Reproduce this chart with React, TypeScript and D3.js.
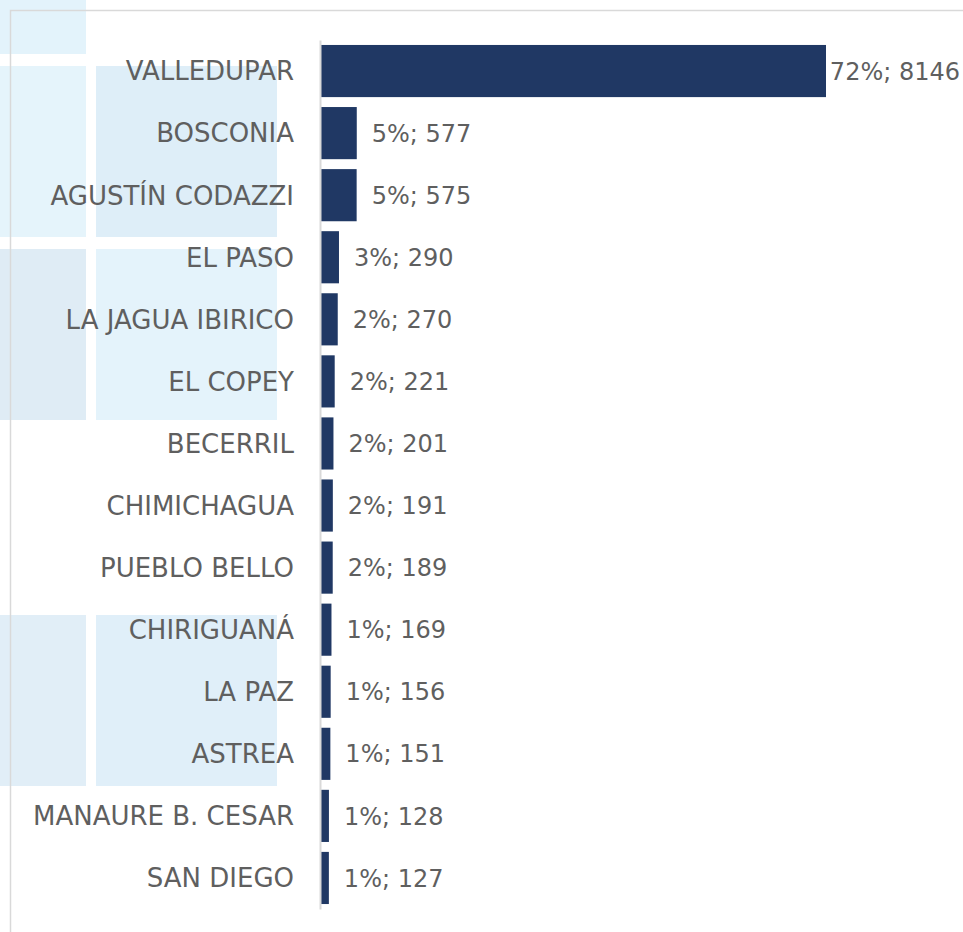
import React, { useEffect, useRef } from "react";
import * as d3 from "d3";

const categories = [
  "VALLEDUPAR",
  "BOSCONIA",
  "AGUSTÍN CODAZZI",
  "EL PASO",
  "LA JAGUA IBIRICO",
  "EL COPEY",
  "BECERRIL",
  "CHIMICHAGUA",
  "PUEBLO BELLO",
  "CHIRIGUANÁ",
  "LA PAZ",
  "ASTREA",
  "MANAURE B. CESAR",
  "SAN DIEGO",
];
const values = [8146, 577, 575, 290, 270, 221, 201, 191, 189, 169, 156, 151, 128, 127];
const percents = ["72%", "5%", "5%", "3%", "2%", "2%", "2%", "2%", "2%", "1%", "1%", "1%", "1%", "1%"];

// decorative background tiles: [column, row, colour]
const tiles: [number, number, string][] = [
  [0, 0, "#e3f3fb"],
  [0, 1, "#e5f4fb"],
  [1, 1, "#deeef8"],
  [0, 2, "#dfecf5"],
  [1, 2, "#e4f3fb"],
  [0, 4, "#e1eef7"],
  [1, 4, "#e0eff9"],
];

const W = 963;
const H = 932;

export default function App() {
  const ref = useRef<SVGSVGElement | null>(null);

  useEffect(() => {
    const svg = d3.select(ref.current);
    svg.selectAll("*").remove();

    // background tiles
    const tileX = (c: number) => -95 + c * 191;
    const tileY = (r: number) => -117 + r * 183;
    svg
      .append("g")
      .selectAll("rect")
      .data(tiles)
      .join("rect")
      .attr("x", (d) => tileX(d[0]))
      .attr("y", (d) => tileY(d[1]))
      .attr("width", 181)
      .attr("height", 171)
      .attr("fill", (d) => d[2]);

    // chart border (top + left)
    svg
      .append("path")
      .attr("d", `M${W},10.5 H10.5 V${H}`)
      .attr("fill", "none")
      .attr("stroke", "#d9d9d9")
      .attr("stroke-width", 1.5);

    const x = d3.scaleLinear().domain([0, 8146]).range([321, 826]);
    const y = d3.scaleBand<string>().domain(categories).range([40, 909]).paddingInner(0.16).paddingOuter(0.08);

    // bars
    svg
      .append("g")
      .selectAll("rect")
      .data(values)
      .join("rect")
      .attr("x", x(0))
      .attr("y", (_, i) => y(categories[i])!)
      .attr("width", (d) => x(d) - x(0))
      .attr("height", y.bandwidth())
      .attr("fill", "#203864");

    // category axis
    const yAxis = d3.axisLeft(y).tickSize(0).tickPadding(26);
    const ag = svg.append("g").attr("transform", `translate(${x(0) - 1},0)`).call(yAxis);
    ag.select(".domain").attr("stroke", "#d9d9d9").attr("stroke-width", 2);
    ag.selectAll("text")
      .attr("font-family", "'DejaVu Sans', sans-serif")
      .attr("font-size", 26)
      .attr("fill", "#5f5f5f")
      .attr("dy", "0.36em");

    // data labels
    const lg = svg.append("g");
    values.forEach((v, i) => {
      const t = lg
        .append("text")
        .attr("font-family", "'DejaVu Sans', sans-serif")
        .attr("font-size", 24)
        .attr("fill", "#5f5f5f")
        .attr("y", y(categories[i])! + y.bandwidth() / 2)
        .attr("dy", "0.36em")
        .text(`${percents[i]}; ${v}`);
      const node = t.node() as SVGTextElement;
      const w = node.getComputedTextLength();
      const px = Math.min(x(v) + 15, W - 3 - w);
      t.attr("x", px);
    });
  }, []);

  return (
    <div style={{ position: "absolute", left: 0, top: 0, width: W, height: H, background: "#fff" }}>
      <svg ref={ref} width={W} height={H} style={{ display: "block" }} />
    </div>
  );
}
